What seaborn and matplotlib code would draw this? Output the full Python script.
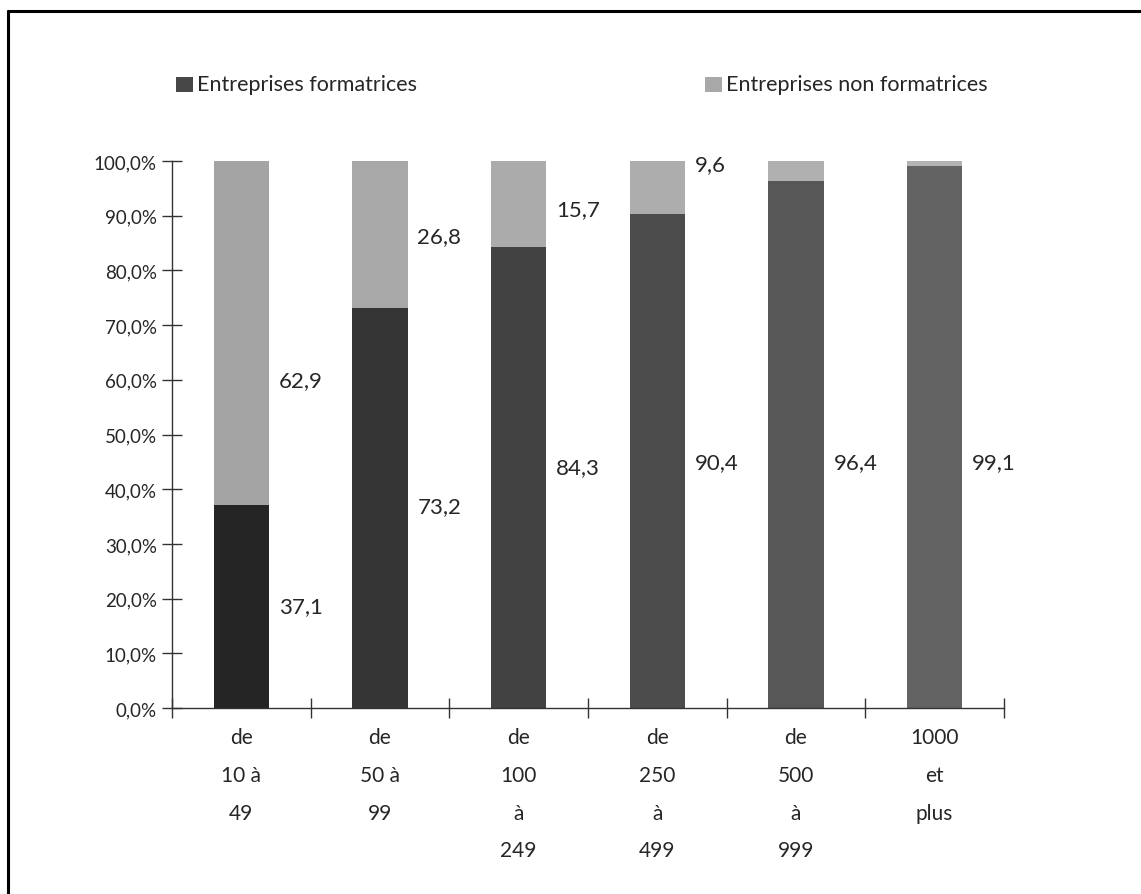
import numpy as np
import pandas as pd
import matplotlib
matplotlib.use("Agg")
import matplotlib.pyplot as plt
import seaborn as sns
from matplotlib.patches import Rectangle
from matplotlib.lines import Line2D
from matplotlib.ticker import FuncFormatter

# Company size classes (number of employees)
categories = ["de\n10 à\n49", "de\n50 à\n99", "de\n100\nà\n249",
              "de\n250\nà\n499", "de\n500\nà\n999", "1000\net\nplus"]
# Share of companies providing training / not providing training (%)
formatrices = [37.1, 73.2, 84.3, 90.4, 96.4, 99.1]
non_formatrices = [62.9, 26.8, 15.7, 9.6, 3.6, 0.9]
series_names = ["Entreprises formatrices", "Entreprises non formatrices"]

# Vertical placement of the value labels (in % of the axis)
pos_formatrices = [18.6, 37.0, 44.0, 45.0, 45.0, 45.0]
pos_non_formatrices = [60.0, 86.2, 91.2, 99.5]

sns.set_style("white")
plt.rcParams["font.family"] = ["Lato", "DejaVu Sans"]

dark_cols = ["#252525", "#353535", "#424242", "#4c4c4c", "#575757", "#636363"]
light_cols = ["#a4a4a4", "#a8a8a8", "#ababab", "#adadad", "#b0b0b0", "#b3b3b3"]

df = pd.DataFrame({
    "classe": categories,
    "formatrices": formatrices,
    "total": np.array(formatrices) + np.array(non_formatrices),
})

W, H = 1141, 895
fig = plt.figure(figsize=(W / 100, H / 100), dpi=100)
ax = fig.add_axes([172 / W, 1 - 709 / H, (1004 - 172) / W, (709 - 162) / H])

sns.barplot(data=df, x="classe", y="total", hue="classe", palette=light_cols,
            legend=False, width=0.4, saturation=1, ax=ax, linewidth=0)
sns.barplot(data=df, x="classe", y="formatrices", hue="classe", palette=dark_cols,
            legend=False, width=0.4, saturation=1, ax=ax, linewidth=0)

ax.set_xlim(-0.5, len(categories) - 0.5)
ax.set_ylim(0, 100)
ax.set_xlabel("")
ax.set_ylabel("")

# Axis styling
for s in ["top", "right"]:
    ax.spines[s].set_visible(False)
for s in ["left", "bottom"]:
    ax.spines[s].set_color("#333333")
    ax.spines[s].set_linewidth(1.0)

ax.set_yticks(np.arange(0, 101, 10))
ax.yaxis.set_major_formatter(FuncFormatter(lambda v, p: f"{v:.1f}%".replace(".", ",")))
ax.tick_params(axis="y", direction="inout", length=14, width=1, color="#333333",
               labelsize=13.5, pad=4, left=True)

bounds = np.arange(len(categories) + 1) - 0.5
ax.set_xticks(bounds)
ax.set_xticklabels([""] * len(bounds))
ax.set_xticks(np.arange(len(categories)), minor=True)
ax.set_xticklabels(categories, minor=True, fontsize=15, linespacing=2.1, va="top")
ax.tick_params(axis="x", which="major", direction="inout", length=14, width=1,
               color="#333333", bottom=True)
ax.tick_params(axis="x", which="minor", length=0, pad=14)

# Value labels to the right of each bar
half_w = 0.2
for i, (v, y) in enumerate(zip(formatrices, pos_formatrices)):
    ax.text(i + half_w + 0.07, y, f"{v:.1f}".replace(".", ","), fontsize=16,
            va="center", ha="left")
for i, (v, y) in enumerate(zip(non_formatrices, pos_non_formatrices)):
    ax.text(i + half_w + 0.07, y, f"{v:.1f}".replace(".", ","), fontsize=16,
            va="center", ha="left")

# Legend entries across the top
def legend_entry(x_px, color, label):
    fig.patches.append(Rectangle((x_px / W, 1 - 93 / H), 17 / W, 15 / H,
                                 transform=fig.transFigure, facecolor=color,
                                 edgecolor="none"))
    fig.text((x_px + 21) / W, 1 - 85 / H, label, fontsize=15.5, va="center", ha="left")

legend_entry(176, "#474747", series_names[0])
legend_entry(705, "#a8a8a8", series_names[1])

# Frame lines on top and left
fig.add_artist(Line2D([8 / W, 1.0], [1 - 12 / H, 1 - 12 / H], transform=fig.transFigure,
                      color="black", linewidth=2.2))
fig.add_artist(Line2D([8 / W, 8 / W], [0.0, 1 - 12 / H], transform=fig.transFigure,
                      color="black", linewidth=2.2))

fig.savefig("out.png", dpi=100, facecolor="white")
